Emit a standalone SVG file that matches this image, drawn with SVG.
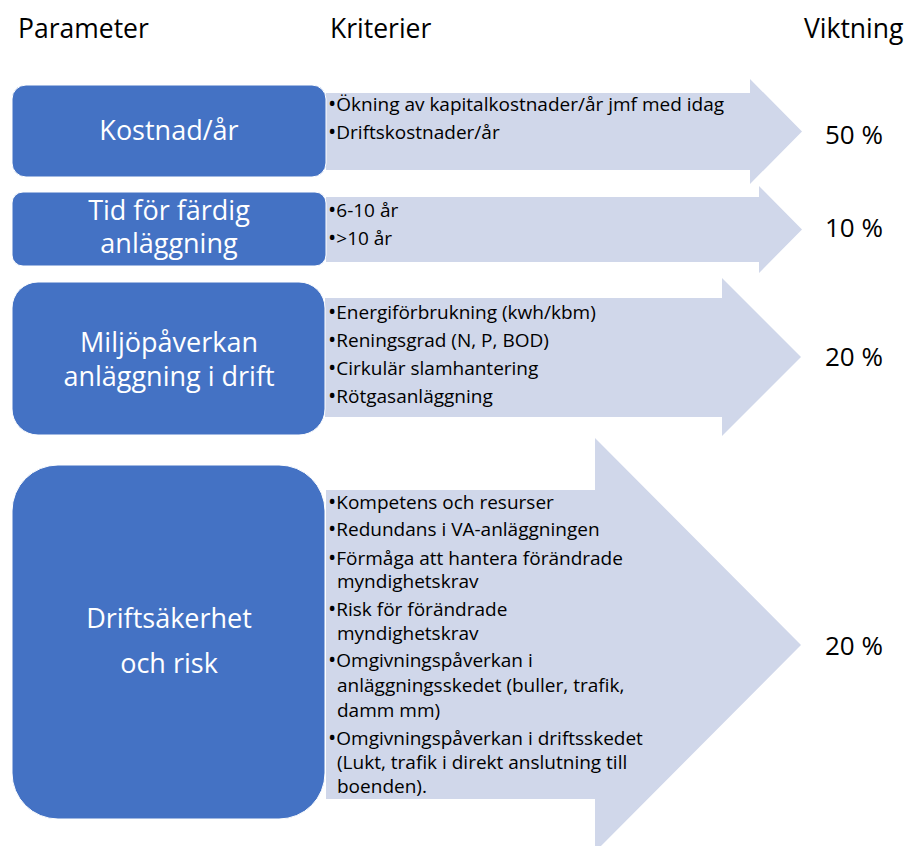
<svg xmlns="http://www.w3.org/2000/svg" width="907" height="846" viewBox="0 0 907 846">
  <style>
    text { font-family: "Open Sans", "Liberation Sans", sans-serif; }
    .head { font-size: 26.5px; fill: #000; }
    .box { fill: #4472C4; stroke: #FFFFFF; stroke-width: 1; }
    .label { font-size: 27px; fill: #FFFFFF; text-anchor: middle; }
    .arrow { fill: #D0D7EA; }
    .crit { font-size: 19px; fill: #000; }
    .b { font-size: 22px; }
    .pct { font-size: 26px; fill: #000; }
  </style>

  <!-- column headings -->
  <g id="headings">
    <text class="head" x="18" y="38">Parameter</text>
    <text class="head" x="330" y="38">Kriterier</text>
    <text class="head" x="804" y="38">Viktning</text>
  </g>

  <!-- criteria arrows (drawn first so parameter boxes sit on top) -->
  <g id="connectors">
    <polygon class="arrow" points="326,93 750,93 750,79 802,131.5 750,184 750,170 326,170"/>
    <polygon class="arrow" points="326,197 759,197 759,186 802,229.5 759,273 759,262 326,262"/>
    <polygon class="arrow" points="325,298 722,298 722,278 801,357 722,436 722,417 325,417"/>
    <polygon class="arrow" points="326,490 595,490 595,438 801,645 595,852 595,799 326,799"/>
  </g>

  <g id="kostnad">
    <rect class="box" x="12" y="85" width="314" height="92" rx="14"/>
    <text class="label" x="169" y="140">Kostnad/år</text>
    <text class="crit" x="328" y="111"><tspan class="b">•</tspan>Ökning av kapitalkostnader/år jmf med idag</text>
    <text class="crit" x="328" y="139"><tspan class="b">•</tspan>Driftskostnader/år</text>
    <text class="pct" x="825" y="144">50 %</text>
  </g>

  <g id="tid">
    <rect class="box" x="12" y="192" width="314" height="74" rx="11"/>
    <text class="label" x="169" y="220">Tid för färdig</text>
    <text class="label" x="169" y="253">anläggning</text>
    <text class="crit" x="328" y="217"><tspan class="b">•</tspan>6-10 år</text>
    <text class="crit" x="328" y="245"><tspan class="b">•</tspan>&gt;10 år</text>
    <text class="pct" x="825" y="237">10 %</text>
  </g>

  <g id="miljo">
    <rect class="box" x="12" y="282" width="313" height="153" rx="26"/>
    <text class="label" x="169" y="352">Miljöpåverkan</text>
    <text class="label" x="169" y="386">anläggning i drift</text>
    <text class="crit" x="328" y="319"><tspan class="b">•</tspan>Energiförbrukning (kwh/kbm)</text>
    <text class="crit" x="328" y="347"><tspan class="b">•</tspan>Reningsgrad (N, P, BOD)</text>
    <text class="crit" x="328" y="375"><tspan class="b">•</tspan>Cirkulär slamhantering</text>
    <text class="crit" x="328" y="403"><tspan class="b">•</tspan>Rötgasanläggning</text>
    <text class="pct" x="825" y="366">20 %</text>
  </g>

  <g id="drift">
    <rect class="box" x="12" y="465" width="313" height="354" rx="46"/>
    <text class="label" x="169" y="628">Driftsäkerhet</text>
    <text class="label" x="169" y="673">och risk</text>
    <text class="crit" x="328" y="509"><tspan class="b">•</tspan>Kompetens och resurser</text>
    <text class="crit" x="328" y="536"><tspan class="b">•</tspan>Redundans i VA-anläggningen</text>
    <text class="crit" x="328" y="565"><tspan class="b">•</tspan>Förmåga att hantera förändrade</text>
    <text class="crit" x="337" y="588">myndighetskrav</text>
    <text class="crit" x="328" y="616"><tspan class="b">•</tspan>Risk för förändrade</text>
    <text class="crit" x="337" y="640">myndighetskrav</text>
    <text class="crit" x="328" y="667"><tspan class="b">•</tspan>Omgivningspåverkan i</text>
    <text class="crit" x="337" y="692">anläggningsskedet (buller, trafik,</text>
    <text class="crit" x="337" y="717">damm mm)</text>
    <text class="crit" x="328" y="745"><tspan class="b">•</tspan>Omgivningspåverkan i driftsskedet</text>
    <text class="crit" x="337" y="769">(Lukt, trafik i direkt anslutning till</text>
    <text class="crit" x="337" y="793">boenden).</text>
    <text class="pct" x="825" y="655">20 %</text>
  </g>
</svg>
